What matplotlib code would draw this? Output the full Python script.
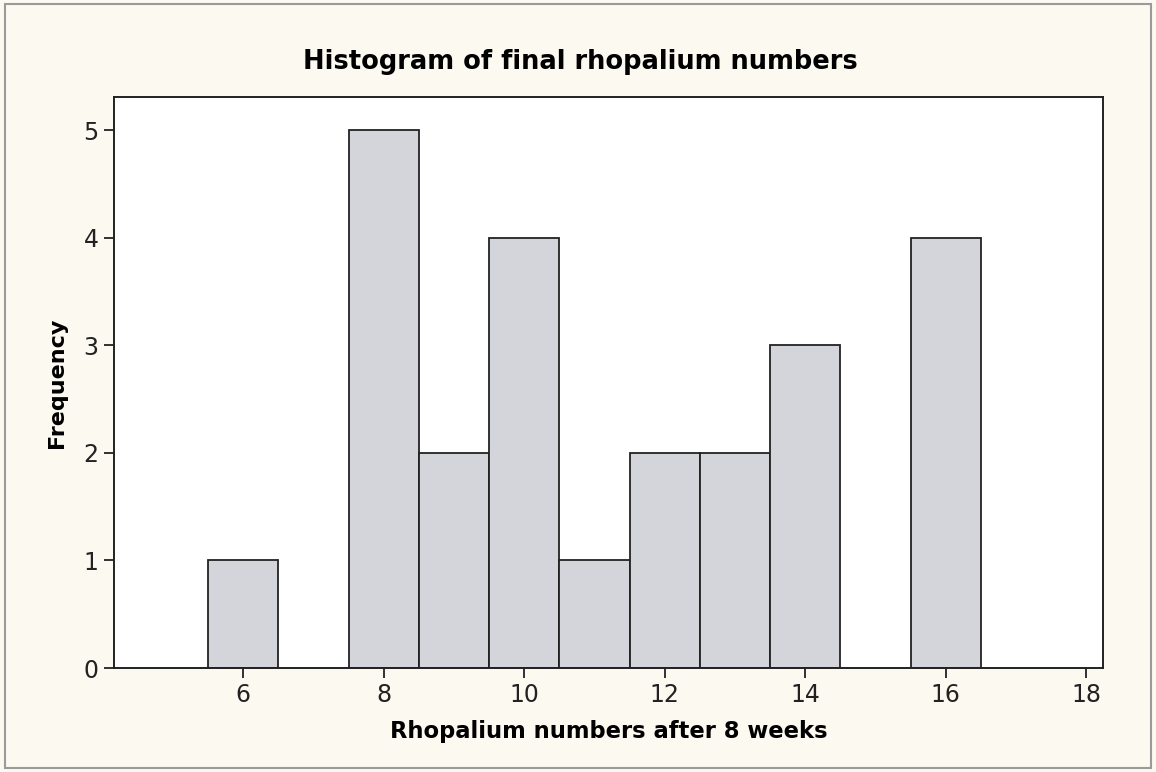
import numpy as np
import matplotlib
matplotlib.use('Agg')
from matplotlib import pyplot as plt
from matplotlib.patches import Rectangle

# 直方图数据：每个整数值的出现次数
bin_centers = [6, 7, 8, 9, 10, 11, 12, 13, 14, 15, 16]
frequency = [1, 0, 5, 2, 4, 1, 2, 2, 3, 0, 4]
x_ticks = [6, 8, 10, 12, 14, 16, 18]
y_ticks = [0, 1, 2, 3, 4, 5]

bg = '#fcf9f1'
fig = plt.figure(figsize=(11.56, 7.72), dpi=100, facecolor=bg)
fig.patches.append(Rectangle((0.004, 0.005), 0.992, 0.99, transform=fig.transFigure,
                             fill=False, edgecolor='#9a9a9a', linewidth=1.5))

ax = fig.add_axes([114 / 1156, 1 - 668 / 772, (1103 - 114) / 1156, (668 - 97) / 772])
ax.set_facecolor('white')

# 宽度为1的条形，中心在整数处，零值不画
for c, f in zip(bin_centers, frequency):
    if f > 0:
        ax.bar(c, f, width=1.0, color='#d3d5da', edgecolor='#222222', linewidth=1.3)

ax.set_xlim(4.16, 18.24)
ax.set_ylim(0, 5.31)
ax.set_xticks(x_ticks)
ax.set_yticks(y_ticks)
ax.tick_params(direction='out', length=7, width=1.3, labelsize=17, colors='#222222', pad=4)
for s in ax.spines.values():
    s.set_linewidth(1.4)
    s.set_color('#222222')

ax.set_xlabel('Rhopalium numbers after 8 weeks', fontsize=16.3, fontweight='bold', labelpad=9)
ax.set_ylabel('Frequency', fontsize=16, fontweight='bold', labelpad=12)
fig.text(0.5 * (300 + 860) / 1156, 1 - 62 / 772, 'Histogram of final rhopalium numbers',
         ha='center', va='center', fontsize=18.5, fontweight='bold')

plt.savefig('out.png', dpi=100, facecolor=bg)
